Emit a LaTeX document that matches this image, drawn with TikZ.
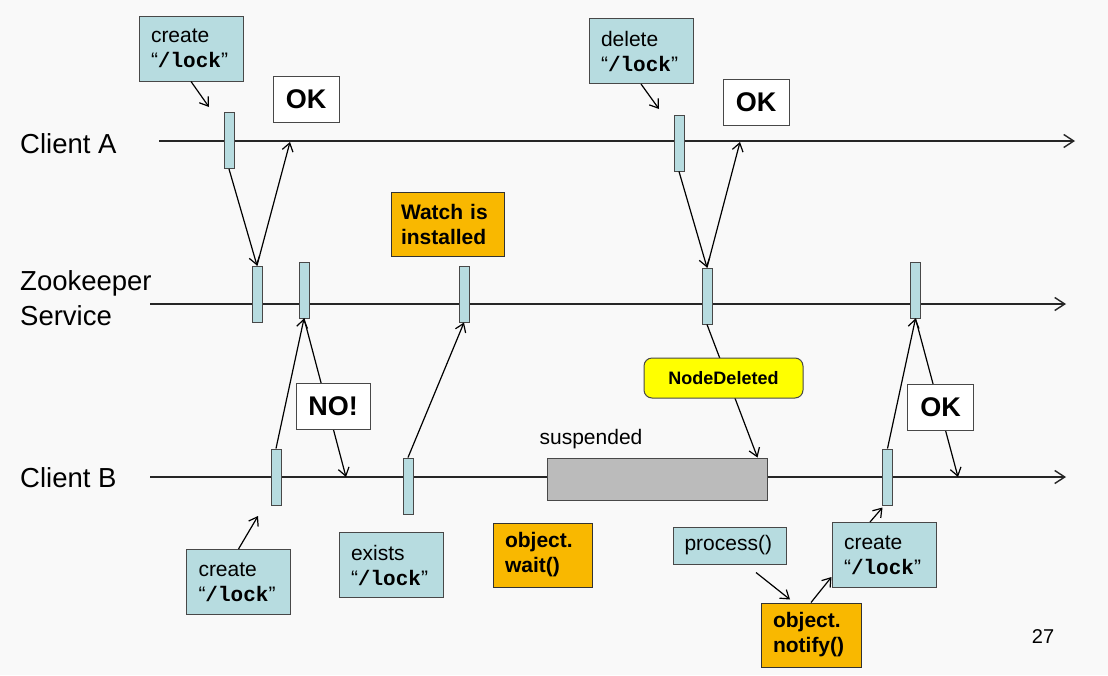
\documentclass[tikz,border=0pt]{standalone}
\usepackage{fontspec}
\setmainfont{Liberation Sans}
\setmonofont{Liberation Mono}
\usetikzlibrary{arrows.meta}

\definecolor{slidebg}{RGB}{249,249,249}
\definecolor{callblue}{RGB}{183,220,224}
\definecolor{notegold}{RGB}{249,184,0}
\definecolor{evtyellow}{RGB}{255,255,0}
\definecolor{susgray}{RGB}{187,187,187}
\definecolor{edgegray}{RGB}{72,72,72}

\newcommand{\lockname}{“\texttt{\bfseries /lock}”}

\begin{document}
\begin{tikzpicture}[x=1pt, y=-1pt,
    lifeline/.style={line width=1.4pt, draw=black!85, -{Straight Barb[length=10pt,width=13pt]}},
    msg/.style={line width=1.2pt, -{Straight Barb[length=8pt,width=11pt]}},
    bar/.style={draw=edgegray, fill=callblue, line width=1pt, inner sep=0pt, minimum width=10pt, minimum height=56pt},
    callout/.style={draw=edgegray, fill=callblue, line width=1pt, inner xsep=12pt, inner ysep=0pt,
        text width=80pt, minimum height=65pt, align=left, font=\fontsize{21}{25}\selectfont},
    notebox/.style={draw=black!80, fill=notegold, line width=1pt, inner xsep=12pt, inner ysep=0pt,
        minimum height=64pt, align=left, font=\fontsize{21}{25}\selectfont\bfseries},
    reply/.style={draw=edgegray, fill=white, line width=1pt, inner sep=0pt, minimum width=66pt,
        minimum height=46pt, font=\fontsize{27}{30}\selectfont\bfseries},
    actor/.style={inner sep=0pt, anchor=west, align=left, font=\fontsize{27.5}{35}\selectfont}]

    % Slide
    \fill[slidebg] (0,0) rectangle (1108,675);
    \useasboundingbox (0,0) rectangle (1108,675);

    % Lifelines
    \node[actor] (ca) at (20,144) {Client A};
    \node[actor] (zk) at (20,298) {Zookeeper\\Service};
    \node[actor] (cb) at (20,478) {Client B};
    \coordinate (caS) at (159,141);  \coordinate (caE) at (1075,141);
    \coordinate (zkS) at (150,304);  \coordinate (zkE) at (1066,304);
    \coordinate (cbS) at (150,477);  \coordinate (cbE) at (1066,477);
    \draw[lifeline] (caS) -- (caE);
    \draw[lifeline] (zkS) -- (zkE);
    \draw[lifeline] (cbS) -- (cbE);

    % Activation bars
    \node[bar] (a1) at (229,140.5) {};
    \node[bar] (a2) at (679,143) {};
    \node[bar] (z1) at (257,294) {};
    \node[bar] (z2) at (304,290) {};
    \node[bar] (z3) at (464,294) {};
    \node[bar] (z4) at (707,296) {};
    \node[bar] (z5) at (915.5,290) {};
    \node[bar] (b1) at (276,477) {};
    \node[bar] (b2) at (408,486) {};
    \node[bar] (b3) at (887.5,477) {};

    % Suspended
    \node[draw=edgegray, fill=susgray, line width=1pt, minimum width=220pt, minimum height=42pt] (sus) at (657,479) {};
    \node[font=\fontsize{21}{25}\selectfont, inner sep=0pt] (suslbl) at (591,439) {suspended};

    % Messages
    \coordinate (okA1tip) at (290,142);
    \coordinate (okA2tip) at (740,142);
    \coordinate (notip) at (346,477);
    \coordinate (okBtip) at (958,477);
    \draw[msg] (a1.south) -- (z1.north);
    \draw[msg] (z1.north) -- (okA1tip);
    \draw[msg] (b1.north) -- (z2.south);
    \draw[msg] (z2.south) -- (notip);
    \draw[msg] (b2.north) -- (z3.south);
    \draw[msg] (a2.south) -- (z4.north);
    \draw[msg] (z4.north) -- (okA2tip);
    \draw[msg] (z4.south) -- ([xshift=-10pt]sus.north east);
    \draw[msg] (b3.north) -- (z5.south);
    \draw[msg] (z5.south) -- (okBtip);

    % Replies and events
    \node[reply] (okA1) at (306,99.5) {OK};
    \node[reply] (okA2) at (756,102) {OK};
    \node[reply, minimum width=74pt] (no) at (333,406.5) {NO!};
    \node[reply] (okB) at (940.5,407) {OK};
    \node[notebox, text width=93pt, inner xsep=10pt] (watch) at (447.5,224.5) {Watch is\\installed};
    \node[draw=edgegray, fill=evtyellow, line width=1pt, rounded corners=8pt, minimum width=159pt,
        minimum height=40pt, font=\fontsize{18}{20}\selectfont\bfseries] (nd) at (723.5,378) {NodeDeleted};

    % Calls
    \node[callout] (cA) at (191,48.5) {create\\\lockname};
    \node[callout] (dl) at (641,51) {delete\\\lockname};
    \node[callout] (cB) at (238.5,582) {create\\\lockname};
    \node[callout] (ex) at (391,565) {exists\\\lockname};
    \node[callout] (cC) at (884,555) {create\\\lockname};
    \node[callout, text width=91pt, inner xsep=11pt, minimum height=37pt] (pr) at (730,545.5) {process()};
    \node[notebox, text width=75pt] (wt) at (542.5,555) {object.\\wait()};
    \node[notebox, text width=76pt] (nt) at (811,635) {object.\\notify()};

    \coordinate (cAtip) at (209,107);
    \coordinate (dltip) at (659,109);
    \coordinate (cBtip) at (258,516);
    \draw[msg] (cA.south) -- (cAtip);
    \draw[msg] (dl.south) -- (dltip);
    \draw[msg] (cB.north) -- (cBtip);
    \draw[msg] ([xshift=26pt,yshift=-8pt]pr.south) -- ([xshift=-21pt,yshift=3pt]nt.north);
    \draw[msg] (nt.north) -- ([yshift=11pt]cC.south west);
    \draw[msg] ([xshift=-14pt]cC.north) -- ([xshift=-5pt,yshift=-2pt]b3.south);

    % Page number
    \node[font=\fontsize{20}{24}\selectfont, inner sep=0pt] (pg) at (1043,637) {27};
\end{tikzpicture}
\end{document}
